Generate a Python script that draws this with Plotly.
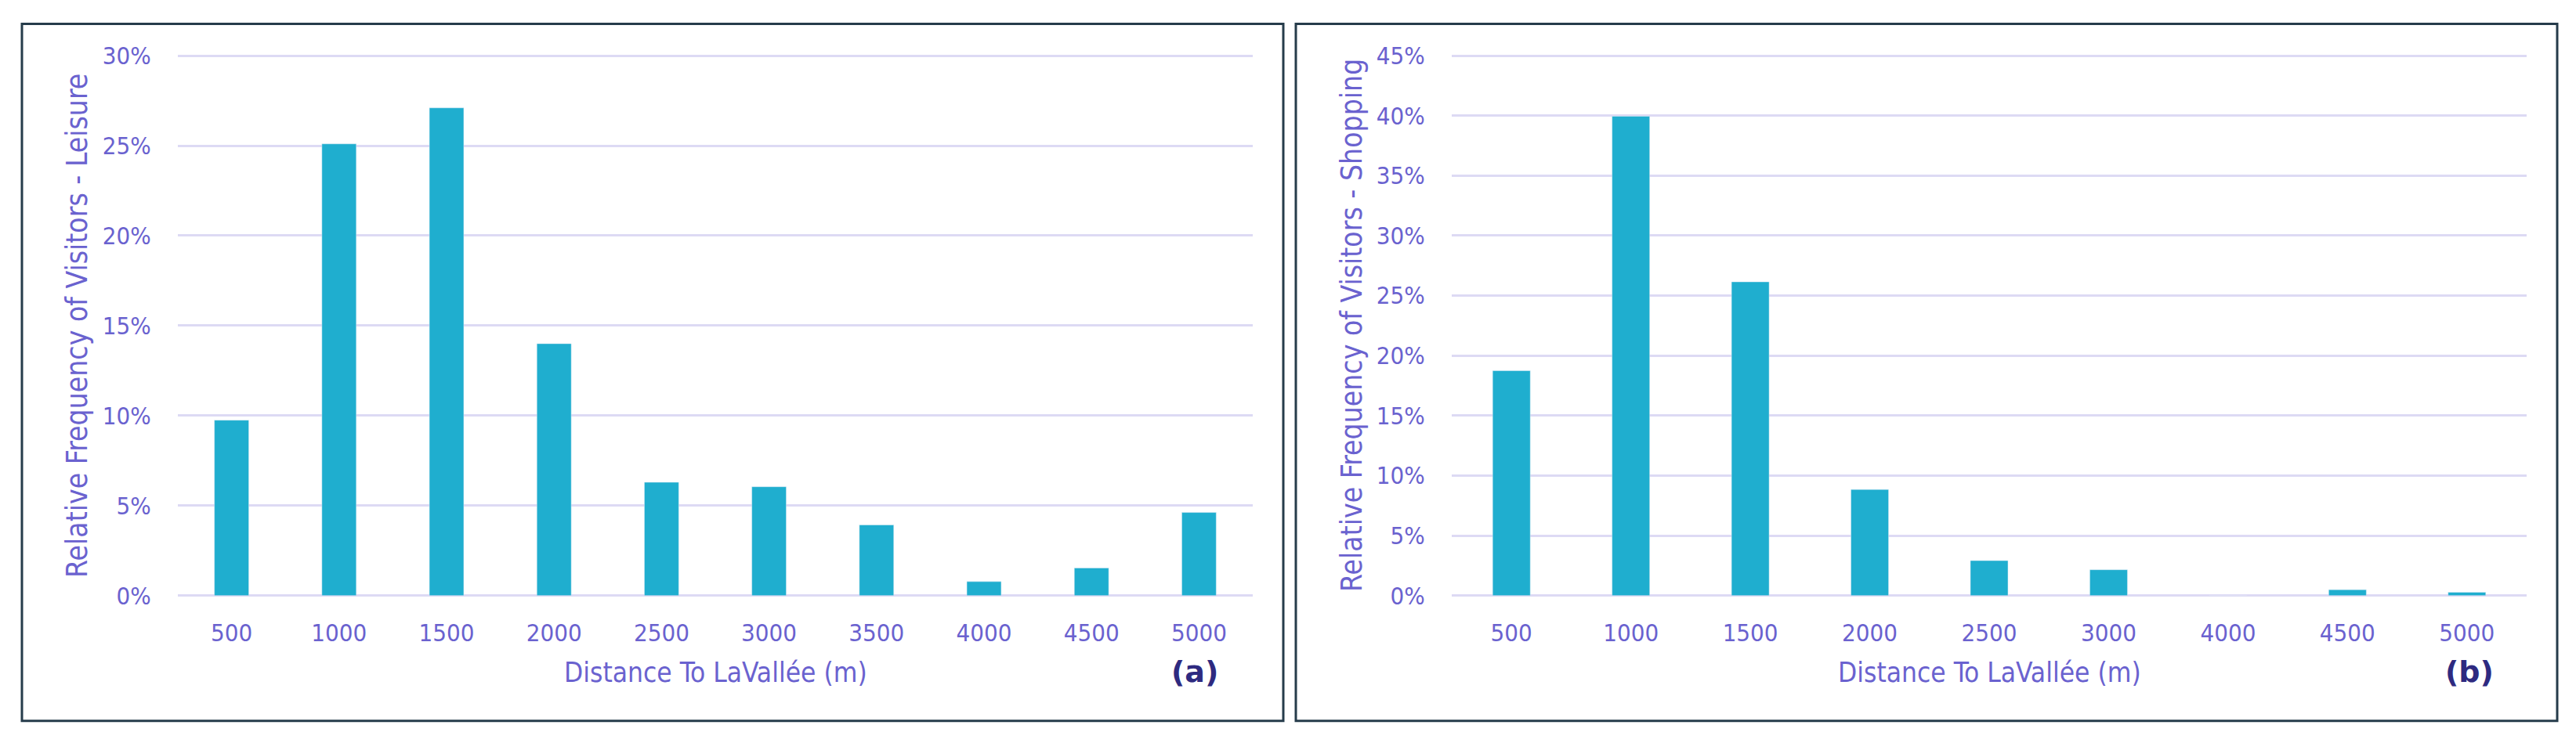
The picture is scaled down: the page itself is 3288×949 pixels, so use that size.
import plotly.graph_objects as go

# ---- data ----
cats_a = ["500", "1000", "1500", "2000", "2500", "3000", "3500", "4000", "4500", "5000"]
vals_a = [9.75, 25.1, 27.1, 14.0, 6.3, 6.05, 3.93, 0.78, 1.54, 4.62]

cats_b = ["500", "1000", "1500", "2000", "2500", "3000", "4000", "4500", "5000"]
vals_b = [18.75, 39.95, 26.15, 8.85, 2.92, 2.16, 0.0, 0.5, 0.28]

ymax_a, ymax_b = 30, 45
ytitle_a = "Relative Frequency of Visitors - Leisure"
ytitle_b = "Relative Frequency of Visitors - Shopping"
xtitle = "Distance To LaVallée (m)"

W, H = 3288, 949
BAR = "#1FAECF"
TXT = "#6A62CF"
GRID = "#DDDAF4"
BORDER = "#263C4B"
LABEL = "#2E2A80"
FONT = "DejaVu Sans Condensed, DejaVu Sans, sans-serif"

# vertical calibration (screen y -> figure y)
VS, VO = 0.966, 15.5


def px(x):
    return x / W


def py(y):
    yf = (y - VO) / VS
    return 1 - yf / H


fig = go.Figure()
fig.add_trace(go.Bar(x=cats_a, y=vals_a, marker_color=BAR, width=0.32,
                     xaxis="x", yaxis="y", showlegend=False))
fig.add_trace(go.Bar(x=cats_b, y=vals_b, marker_color=BAR, width=0.315,
                     xaxis="x2", yaxis="y2", showlegend=False))

# plot area (screen pixel coords of the top gridline / zero line)
top_px, bot_px = 70.7, 761.7
EXT = 1.003  # small range extension so the top gridline is drawn
dom_top = bot_px - (bot_px - top_px) * EXT
dom_y = [py(bot_px), py(dom_top)]
dom_xa = [px(227), px(1599)]
dom_xb = [px(1853), px(3225)]

xaxis_common = dict(type="category", showgrid=False, zeroline=False, showline=False,
                    ticks="outside", ticklen=20, tickcolor="rgba(0,0,0,0)",
                    tickfont=dict(family=FONT, size=31, color=TXT))
yaxis_common = dict(showgrid=True, gridcolor=GRID, gridwidth=2.5, zeroline=True,
                    zerolinecolor=GRID, zerolinewidth=2.5, showline=False,
                    ticks="outside", ticklen=27, tickcolor="rgba(0,0,0,0)",
                    ticksuffix="%", dtick=5,
                    tickfont=dict(family=FONT, size=31, color=TXT))

fig.update_layout(
    width=W, height=H,
    margin=dict(l=0, r=0, t=0, b=0),
    paper_bgcolor="white", plot_bgcolor="white",
    xaxis=dict(domain=dom_xa, anchor="y", **xaxis_common),
    yaxis=dict(domain=dom_y, anchor="x", range=[0, ymax_a * EXT], **yaxis_common),
    xaxis2=dict(domain=dom_xb, anchor="y2", **xaxis_common),
    yaxis2=dict(domain=dom_y, anchor="x2", range=[0, ymax_b * EXT], **yaxis_common),
)

# panel borders
for x0, x1 in [(28, 1638), (1654, 3264)]:
    fig.add_shape(type="rect", xref="paper", yref="paper",
                  x0=px(x0), x1=px(x1), y0=py(922), y1=py(30),
                  line=dict(color=BORDER, width=3), fillcolor="rgba(0,0,0,0)")

mid_y = py((top_px + bot_px) / 2)
ann = []
for title, xc in [(ytitle_a, 99), (ytitle_b, 1726)]:
    ann.append(dict(text=title, x=px(xc), y=mid_y, xref="paper", yref="paper",
                    textangle=-90, showarrow=False, xanchor="center", yanchor="middle",
                    font=dict(family=FONT, size=37, color=TXT)))
for dom in (dom_xa, dom_xb):
    ann.append(dict(text=xtitle, x=(dom[0] + dom[1]) / 2, y=py(860), xref="paper", yref="paper",
                    showarrow=False, xanchor="center", yanchor="middle",
                    font=dict(family=FONT, size=35, color=TXT)))
for lab, xc in [("(a)", 1525), ("(b)", 3152)]:
    ann.append(dict(text="<b>" + lab + "</b>", x=px(xc), y=py(859), xref="paper", yref="paper",
                    showarrow=False, xanchor="center", yanchor="middle",
                    font=dict(family="DejaVu Sans, sans-serif", size=38, color=LABEL)))
fig.update_layout(annotations=ann)

fig.write_html("out.html", config={"displayModeBar": False},
               post_script="document.body.style.margin='0';document.body.style.overflow='hidden';")
